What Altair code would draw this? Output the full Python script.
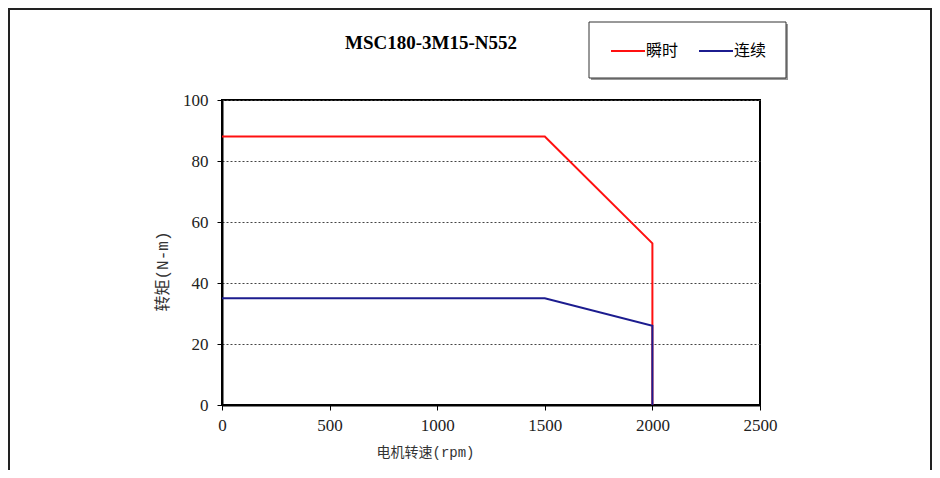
import altair as alt
import pandas as pd

# Data
series_names = ["瞬时", "连续"]
speed_peak = [0, 1500, 2000, 2000]
torque_peak = [88, 88, 53, 0]
speed_cont = [0, 1500, 2000, 2000]
torque_cont = [35, 35, 26, 0]
x_ticks = [0, 500, 1000, 1500, 2000, 2500]
y_ticks = [0, 20, 40, 60, 80, 100]
colors = ["#ff1010", "#1c1c8f"]

rows = []
for i, (x, y) in enumerate(zip(speed_peak, torque_peak)):
    rows.append({"s": series_names[0], "x": x, "y": y, "i": i})
for i, (x, y) in enumerate(zip(speed_cont, torque_cont)):
    rows.append({"s": series_names[1], "x": x, "y": y, "i": i})
df = pd.DataFrame(rows)

W, H = 538, 305
PL, PT = 214, 92

serif = "Liberation Serif"
cjk = "Liberation Mono, Noto Sans CJK SC"
cjk_sans = "Noto Sans CJK SC"

lines = alt.Chart(df).mark_line(strokeWidth=2).encode(
    x=alt.X("x:Q", scale=alt.Scale(domain=[0, 2500], nice=False),
            axis=alt.Axis(values=x_ticks, format="d", title="电机转速(rpm)", grid=False,
                          labelFlush=False,
                          titleX=203, titleY=47, titleBaseline="middle", titleFontSize=14)),
    y=alt.Y("y:Q", scale=alt.Scale(domain=[0, 100], nice=False),
            axis=alt.Axis(values=y_ticks, format="d", title="转矩(N-m)", grid=True,
                          labelFlush=False,
                          titleX=-60, titleY=171, titleBaseline="middle",
                          titleAngle=-90, titleAlign="center", titleFontSize=16)),
    color=alt.Color("s:N", scale=alt.Scale(domain=series_names, range=colors),
                    legend=alt.Legend(title=None, orient="none", legendX=388, legendY=-67,
                                      direction="horizontal", symbolType="stroke",
                                      symbolSize=1156, symbolStrokeWidth=2,
                                      labelFont=cjk_sans, labelFontSize=16, labelOffset=0,
                                      columnPadding=16, padding=0)),
    order=alt.Order("i:Q"),
)

one = alt.Data(values=[{"a": 1}])
frame = alt.Chart(one).mark_rect(filled=False, stroke="#222", strokeWidth=2).encode(
    x=alt.value(-PL + 1), x2=alt.value(-PL + 923),
    y=alt.value(-PT + 1), y2=alt.value(-PT + 480),
)
shadow = alt.Chart(one).mark_rect(fill="#999").encode(
    x=alt.value(367 + 2), x2=alt.value(564 + 2),
    y=alt.value(-78 + 2), y2=alt.value(-22 + 2),
)
box = alt.Chart(one).mark_rect(fill="white", stroke="#333", strokeWidth=1).encode(
    x=alt.value(367), x2=alt.value(564),
    y=alt.value(-78), y2=alt.value(-22),
)

chart = alt.layer(frame, shadow, box, lines).properties(
    width=W, height=H,
    autosize=alt.AutoSizeParams(type="none"),
    padding={"left": PL, "top": PT, "right": 924 - PL - W, "bottom": 462 - PT - H},
    title=alt.TitleParams("MSC180-3M15-N552", font=serif, fontSize=19, fontWeight="bold",
                          anchor="middle", dx=-60, offset=0, dy=60, baseline="alphabetic",
                          color="black"),
    background="white",
).configure_view(
    stroke="black", strokeWidth=2
).configure_axis(
    labelFont=serif, labelFontSize=17, labelColor="#222",
    titleFont=cjk, titleFontWeight="normal", titleColor="#333",
    domainColor="black", domainWidth=2, tickColor="black", tickSize=5,
    gridColor="#444", gridDash=[2, 2], gridWidth=1,
).configure_axisX(labelPadding=7).configure_axisY(labelPadding=9)

chart.save("out.html", embed_options={"renderer": "svg", "actions": False})
